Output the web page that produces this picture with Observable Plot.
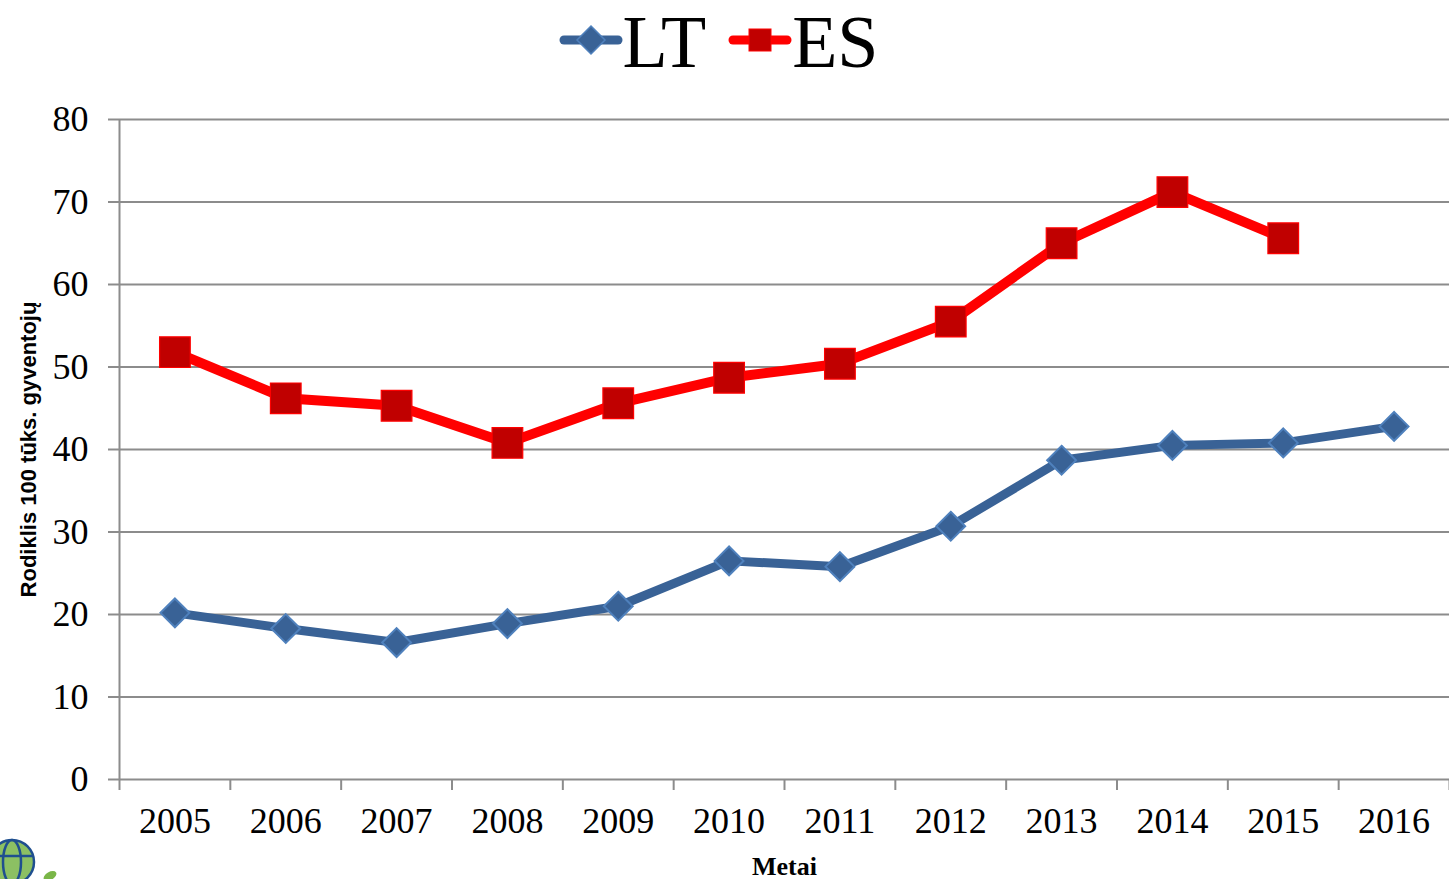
<!DOCTYPE html>
<html>
<head>
<meta charset="utf-8">
<script src="https://cdn.jsdelivr.net/npm/d3@7"></script>
<script src="https://cdn.jsdelivr.net/npm/@observablehq/plot@0.6"></script>
<style>
  html, body { margin: 0; padding: 0; background: #fff; }
  #wrap { position: relative; width: 1449px; height: 879px; overflow: hidden; }
  #legend { height: 80px; display: flex; justify-content: center; align-items: center;
            font-family: "Liberation Serif", "Times New Roman", serif; font-size: 74px; color: #000; padding-left: 10px; padding-top: 3px; padding-bottom: 0; box-sizing: border-box; }
  .item { display: flex; align-items: center; margin: 0 22px 0 0; }
  .item svg { display: block; }
  .item span { line-height: 1; }
  #logo { position: absolute; left: -22px; top: 832px; }
</style>
</head>
<body>
<div id="wrap">
  <div id="legend"></div>
  <div id="chart"></div>
  <svg id="logo" width="90" height="60" viewBox="0 0 90 60">
    <circle cx="34" cy="30" r="22" fill="#8cc063"/>
    <circle cx="34" cy="30" r="22" fill="none" stroke="#1f4f8f" stroke-width="2.5"/>
    <ellipse cx="34" cy="30" rx="9" ry="22" fill="none" stroke="#1f4f8f" stroke-width="2.5"/>
    <line x1="12" y1="24" x2="56" y2="24" stroke="#1f4f8f" stroke-width="2.5"/>
    <ellipse cx="72" cy="44" rx="7" ry="4" fill="#7ab648" transform="rotate(-30 72 44)"/>
  </svg>
</div>
<script>
// Data
const years = [2005, 2006, 2007, 2008, 2009, 2010, 2011, 2012, 2013, 2014, 2015, 2016];
const ltValues = [20.2, 18.3, 16.6, 18.9, 21.0, 26.5, 25.8, 30.7, 38.7, 40.5, 40.8, 42.8];
const esYears = [2005, 2006, 2007, 2008, 2009, 2010, 2011, 2012, 2013, 2014, 2015];
const esValues = [51.8, 46.2, 45.3, 40.8, 45.6, 48.7, 50.4, 55.5, 65.0, 71.2, 65.6];
const yTicks = [0, 10, 20, 30, 40, 50, 60, 70, 80];
const seriesNames = ["LT", "ES"];
const yLabel = "Rodiklis 100 tūks. gyventojų";
const xLabel = "Metai";

const LT_LINE = "#396296", LT_FILL = "#396296", LT_EDGE = "#4f81bd";
const ES_LINE = "#ff0000", ES_FILL = "#c00000", ES_EDGE = "#ff0000";
const SERIF = "'Liberation Serif', 'Times New Roman', serif";

const lt = years.map((y, i) => ({year: y, value: ltValues[i]}));
const es = esYears.map((y, i) => ({year: y, value: esValues[i]}));
const bounds = d3.range(years[0] - 0.5, years[years.length - 1] + 1, 1);

// Legend (HTML above the SVG)
const legend = d3.select("#legend");
function legendItem(name, kind) {
  const it = legend.append("div").attr("class", "item");
  const s = it.append("svg").attr("width", 64).attr("height", 40).style("margin-top", "-4px");
  if (kind === "diamond") {
    s.append("line").attr("x1", 5).attr("x2", 59).attr("y1", 20).attr("y2", 20)
      .attr("stroke", LT_LINE).attr("stroke-width", 9).attr("stroke-linecap", "round");
    s.append("path").attr("d", "M32,6 L46,20 L32,34 L18,20 Z")
      .attr("fill", LT_FILL).attr("stroke", LT_EDGE).attr("stroke-width", 1.5);
  } else {
    s.append("line").attr("x1", 5).attr("x2", 59).attr("y1", 20).attr("y2", 20)
      .attr("stroke", ES_LINE).attr("stroke-width", 9).attr("stroke-linecap", "round");
    s.append("rect").attr("x", 21).attr("y", 9).attr("width", 22).attr("height", 22)
      .attr("fill", ES_FILL).attr("stroke", ES_EDGE).attr("stroke-width", 1);
  }
  it.append("span").text(name);
}
legendItem(seriesNames[0], "diamond");
legendItem(seriesNames[1], "square");

const chart = Plot.plot({
  width: 1449,
  height: 799,
  marginLeft: 119,
  marginRight: 0,
  marginTop: 39,
  marginBottom: 100,
  style: {fontFamily: SERIF, background: "#fff"},
  x: {type: "linear", domain: [years[0] - 0.5, years[years.length - 1] + 0.5]},
  y: {domain: [0, 80]},
  marks: [
    Plot.ruleY(yTicks.filter(d => d > 0), {stroke: "#8c8c8c", strokeWidth: 2}),
    Plot.ruleY([0], {stroke: "#8c8c8c", strokeWidth: 2}),
    Plot.ruleX([bounds[0]], {y1: 0, y2: 80, stroke: "#8c8c8c", strokeWidth: 2}),
    Plot.axisY({ticks: yTicks, tickSize: 11, tickPadding: 20, fontSize: 36, fontFamily: SERIF, stroke: "#8c8c8c", strokeWidth: 2, fill: "#000", label: null}),
    Plot.axisX({ticks: bounds, tickSize: 11, tickFormat: () => "", stroke: "#8c8c8c", strokeWidth: 2, label: null}),
    Plot.axisX({ticks: years, tickSize: 0, tickPadding: 28, fontSize: 36, fontFamily: SERIF, fill: "#000", tickFormat: d => String(d), label: null}),
    Plot.lineY(es, {x: "year", y: "value", stroke: ES_LINE, strokeWidth: 10, strokeLinejoin: "round"}),
    Plot.lineY(lt, {x: "year", y: "value", stroke: LT_LINE, strokeWidth: 9, strokeLinejoin: "round"}),
    Plot.dot(es, {x: "year", y: "value", symbol: "square", r: 17.3, fill: ES_FILL, stroke: ES_EDGE, strokeWidth: 1.2}),
    Plot.dot(lt, {x: "year", y: "value", symbol: "diamond2", r: 13, fill: LT_FILL, stroke: LT_EDGE, strokeWidth: 2}),
    Plot.text([xLabel], {frameAnchor: "bottom", dy: 95, text: d => d, fontSize: 26, fontWeight: "bold", fill: "#000", fontFamily: SERIF}),
    Plot.text([yLabel], {frameAnchor: "left", dx: -91, rotate: -90, textAnchor: "middle", text: d => d, fontSize: 22, fontWeight: "bold", fill: "#000", fontFamily: "'Liberation Sans', Arial, sans-serif"})
  ]
});
document.getElementById("chart").appendChild(chart);
</script>
</body>
</html>
